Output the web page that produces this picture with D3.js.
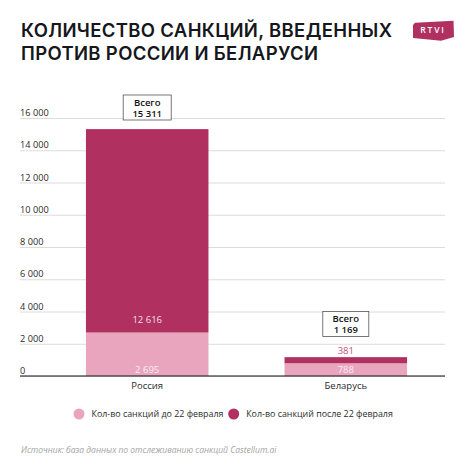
<!DOCTYPE html>
<html>
<head>
<meta charset="utf-8">
<script src="https://cdn.jsdelivr.net/npm/d3@7"></script>
<style>
  html, body { margin: 0; padding: 0; background: #fff; }
  text { font-family: "Open Sans", sans-serif; }
</style>
</head>
<body>
<div id="chart"></div>
<script>
const countries = ['Россия', 'Беларусь'];
const before = [2695, 788];
const after = [12616, 381];
const totals = [15311, 1169];
const yTicks = [0, 2000, 4000, 6000, 8000, 10000, 12000, 14000, 16000];
const titleLines = ['КОЛИЧЕСТВО САНКЦИЙ, ВВЕДЕННЫХ', 'ПРОТИВ РОССИИ И БЕЛАРУСИ'];
const legendLabels = ['Кол-во санкций до 22 февраля', 'Кол-во санкций после 22 февраля'];
const source = 'Источник: база данных по отслеживанию санкций Castellum.ai';

const colorBefore = '#e8a5bd';
const colorAfter = '#b0315f';

const fmt = v => String(v).replace(/\B(?=(\d{3})+$)/g, ' ');

const svg = d3.select('#chart').append('svg')
    .attr('width', 474)
    .attr('height', 474);

// title, stretched to the line widths of the original typeface
const titleWidths = [371, 297];
svg.selectAll('.title').data(titleLines).join('text')
    .attr('class', 'title')
    .attr('x', 21)
    .attr('y', (d, i) => 37 + i * 22.5)
    .attr('textLength', (d, i) => titleWidths[i])
    .style('font-family', 'Inter, sans-serif')
    .style('font-size', '18.5px')
    .style('font-weight', 600)
    .attr('fill', '#15171c')
    .text(d => d);

// logo
svg.append('path')
    .attr('d', 'M415 22.7L453.5 20.7L454 37L441 40.7L413 38L413 25Z')
    .attr('fill', colorAfter);
svg.append('text')
    .attr('x', 433).attr('y', 33.3)
    .attr('text-anchor', 'middle')
    .attr('fill', '#fff')
    .style('font-size', '8.5px')
    .style('font-weight', 600)
    .style('letter-spacing', '1.8px')
    .text('RTVI');

const y = d3.scaleLinear().domain([0, 16000]).range([376, 118]);
const x = d3.scaleBand().domain(countries).range([48, 445])
    .paddingInner(0.383).paddingOuter(0.191);

// gridlines and labels
const axis = svg.append('g')
    .attr('transform', 'translate(20,0)')
    .call(d3.axisLeft(y).tickValues(yTicks).tickSize(-425).tickFormat(fmt));
axis.select('.domain').remove();
axis.selectAll('.tick line')
    .attr('stroke', '#dcdcdc');
axis.selectAll('.tick text')
    .attr('x', 0)
    .attr('dy', '-2.5')
    .attr('text-anchor', 'start')
    .attr('fill', '#2b2b2b')
    .style('font-family', '"Open Sans", sans-serif')
    .style('font-size', '9.2px');

// stacked bars
const barRows = countries.map((c, i) => ({ c, before: before[i], after: after[i], total: totals[i] }));
const stack = d3.stack().keys(['before', 'after'])(barRows);
const colors = { before: colorBefore, after: colorAfter };

svg.append('g').selectAll('g').data(stack).join('g')
    .attr('fill', d => colors[d.key])
    .selectAll('rect').data(d => d).join('rect')
    .attr('x', d => x(d.data.c))
    .attr('width', x.bandwidth())
    .attr('y', d => y(d[1]))
    .attr('height', d => y(d[0]) - y(d[1]));

// baseline
svg.append('line')
    .attr('x1', 20).attr('x2', 445)
    .attr('y1', y(0)).attr('y2', y(0))
    .attr('stroke', '#111')
    .attr('stroke-width', 1.2);

// value labels
const valueLabel = (vals, yFor, fillFor) => {
    svg.append('g').selectAll('text').data(vals).join('text')
        .attr('x', (d, i) => x(countries[i]) + x.bandwidth() / 2)
        .attr('y', yFor)
        .attr('text-anchor', 'middle')
        .attr('fill', fillFor)
        .style('font-size', '9.5px')
        .style('font-weight', 500)
        .text(fmt);
};
valueLabel(before, () => y(0) - 3.5, () => '#fbeef3');
valueLabel(after, (d, i) => i === 0 ? y(before[0]) - 10 : y(totals[1]) - 3.5,
    (d, i) => i === 0 ? '#f7dfe8' : '#c2517b');

// total boxes
const boxWidths = [48, 46];
const boxTops = [95, 311.5];
const boxes = svg.append('g').selectAll('g').data(totals).join('g')
    .attr('transform', (d, i) => `translate(${x(countries[i]) + x.bandwidth() / 2},${boxTops[i]})`);
boxes.append('rect')
    .attr('x', (d, i) => -boxWidths[i] / 2)
    .attr('width', (d, i) => boxWidths[i])
    .attr('height', 25)
    .attr('fill', '#fff')
    .attr('stroke', '#555')
    .attr('stroke-width', 0.8);
boxes.append('text')
    .attr('y', 10.8)
    .attr('text-anchor', 'middle')
    .attr('fill', '#111')
    .style('font-size', '9.5px')
    .style('font-weight', 600)
    .text('Всего');
boxes.append('text')
    .attr('y', 21.8)
    .attr('text-anchor', 'middle')
    .attr('fill', '#111')
    .style('font-size', '9.5px')
    .style('font-weight', 600)
    .text(fmt);

// category labels
svg.append('g').selectAll('text').data(countries).join('text')
    .attr('x', d => x(d) + x.bandwidth() / 2)
    .attr('y', 389)
    .attr('text-anchor', 'middle')
    .attr('fill', '#2b2b2b')
    .style('font-size', '9.5px')
    .style('font-weight', 500)
    .text(d => d);

// legend
const legendX = [79, 233.7];
const legendColors = [colorBefore, colorAfter];
const legend = svg.append('g').selectAll('g').data(legendLabels).join('g')
    .attr('transform', (d, i) => `translate(${legendX[i]},414)`);
legend.append('circle')
    .attr('r', 5.5)
    .attr('fill', (d, i) => legendColors[i]);
legend.append('text')
    .attr('x', 12.5)
    .attr('y', 3.3)
    .attr('fill', '#2b2b2b')
    .style('font-size', '8.9px')
    .style('font-weight', 500)
    .text(d => d);

// source
svg.append('text')
    .attr('x', 21).attr('y', 453)
    .attr('fill', '#a3a3a3')
    .style('font-size', '8.5px')
    .style('font-style', 'italic')
    .text(source);
</script>
</body>
</html>
